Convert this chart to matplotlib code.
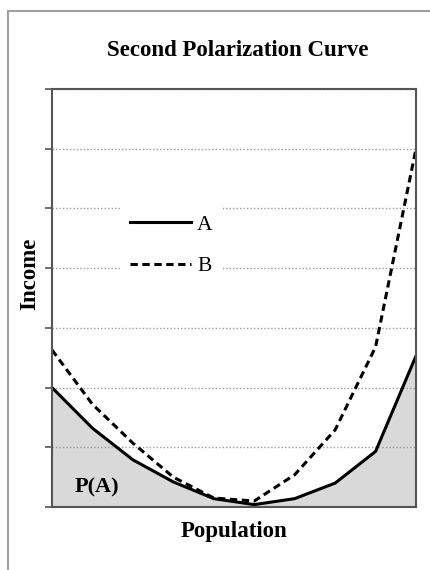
import matplotlib.pyplot as plt
from matplotlib.patches import Rectangle
from matplotlib.lines import Line2D

# data
population = [0, 1, 2, 3, 4, 5, 6, 7, 8, 9]
income_a = [2.0, 1.32, 0.79, 0.42, 0.14, 0.04, 0.14, 0.40, 0.93, 2.53]
income_b = [2.63, 1.72, 1.07, 0.5, 0.15, 0.1, 0.54, 1.29, 2.68, 6.0]
y_ticks = [0, 1, 2, 3, 4, 5, 6, 7]

serif = 'Liberation Serif'
frame_col = '#555555'
grid_col = '#8c9db3'
W, H = 431, 570

fig = plt.figure(figsize=(4.31, 5.70), dpi=100)
fig.patch.set_facecolor('white')

# outer chart border (cut off on the right and bottom)
fig.patches.append(Rectangle((8 / W, -0.1), 1.2, 1 - 11 / H + 0.1,
                             transform=fig.transFigure, fill=False,
                             edgecolor='#a0a0a0', lw=1.5, clip_on=False))

ax = fig.add_axes([52 / W, 63 / H, 364 / W, 418 / H])

ax.fill_between(population, income_a, 0, color='#d9d9d9', lw=0, zorder=1)
ax.plot(population, income_a, color='black', lw=2.2, zorder=3)
ax.plot(population, income_b, color='black', lw=2.2,
        linestyle=(0, (2.4, 1.5)), zorder=3)

ax.set_xlim(0, 9)
ax.set_ylim(0, 7)
ax.set_xticks([])
ax.set_yticks(y_ticks)
ax.set_yticklabels([])
ax.tick_params(axis='y', direction='out', length=5, width=1.2, color=frame_col)
ax.yaxis.grid(True, linestyle=(0, (1, 1.5)), color=grid_col, lw=1)
ax.set_axisbelow('line')
for sp in ax.spines.values():
    sp.set_color(frame_col)
    sp.set_linewidth(1.5)
    sp.set_zorder(4)

bold = dict(fontsize=16.5, fontweight='bold', family=serif,
            ha='center', va='center')
fig.text(238 / W, 1 - 50 / H, 'Second Polarization Curve', **bold)
fig.text(234 / W, 1 - 532 / H, 'Population', **bold)
fig.text(30 / W, 1 - 274 / H, 'Income', rotation=90, **bold)

ax.text(0.55, 0.33, 'P(A)', fontsize=16, fontweight='bold', family=serif,
        va='center', zorder=5)

handles = [Line2D([], [], color='black', lw=2.2),
           Line2D([], [], color='black', lw=2.2, linestyle=(0, (2.4, 1.5)))]
leg = ax.legend(handles, ['A', 'B'], loc='center',
                bbox_to_anchor=(171.5 / W, 1 - 245.5 / H),
                bbox_transform=fig.transFigure,
                prop={'family': serif, 'size': 15.5}, handlelength=2.8,
                handletextpad=0.3, labelspacing=1.0, borderpad=0.5,
                frameon=True, fancybox=False, framealpha=1,
                edgecolor='none', facecolor='white')
leg.set_zorder(6)

fig.savefig('out.png', dpi=100)
